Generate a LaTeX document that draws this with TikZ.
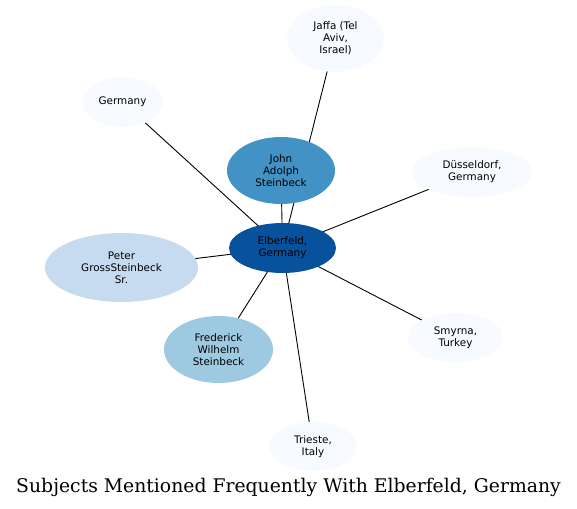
\documentclass[tikz,border=0pt]{standalone}
\usepackage{fontspec}
\usetikzlibrary{shapes.geometric,backgrounds}

\newfontfamily\labelfont{DejaVu Sans}
\newfontfamily\titlefont{DejaVu Serif}
\definecolor{elbblue}{HTML}{08519C}
\definecolor{johnblue}{HTML}{4292C6}
\definecolor{fredblue}{HTML}{9ECAE1}
\definecolor{peterblue}{HTML}{C6DBEF}
\definecolor{paleblue}{HTML}{F7FBFF}

\tikzset{
  place/.style={ellipse, inner sep=0pt, align=center,
    font=\labelfont\fontsize{10.4}{12}\selectfont},
  link/.style={line width=0.9pt}
}

\begin{document}
\begin{tikzpicture}[x=1pt,y=-1pt]
            \useasboundingbox (0,0) rectangle (577,508);

            \node [place, fill=elbblue, minimum width=107, minimum height=50] (E) at (282.5,248) {Elberfeld,\\Germany};
            \node [place, fill=johnblue, minimum width=108, minimum height=67] (J) at (281,170.5) {John\\Adolph\\Steinbeck};
            \node [place, fill=paleblue, minimum width=97, minimum height=67] (Ja) at (335.5,38.5) {Jaffa (Tel\\Aviv,\\Israel)};
            \node [place, fill=paleblue, minimum width=81, minimum height=50] (G) at (122.5,102) {Germany};
            \node [place, fill=paleblue, minimum width=120, minimum height=50] (D) at (472,172) {Düsseldorf,\\Germany};
            \node [place, fill=peterblue, minimum width=153, minimum height=69] (P) at (121.5,267.5) {Peter\\GrossSteinbeck\\Sr.};
            \node [place, fill=fredblue, minimum width=109, minimum height=67] (F) at (218.5,349.5) {Frederick\\Wilhelm\\Steinbeck};
            \node [place, fill=paleblue, minimum width=95, minimum height=49] (S) at (455.5,337.5) {Smyrna,\\Turkey};
            \node [place, fill=paleblue, minimum width=88, minimum height=49] (T) at (313,446.5) {Trieste,\\Italy};

            \node [font=\titlefont\fontsize{18.8}{22}\selectfont] (title) at (288.5,487) {Subjects Mentioned Frequently With Elberfeld, Germany};

            \begin{pgfonlayer}{background}
                \foreach \n in {J,Ja,G,D,P,F,S,T}
                    \draw [link] (E.center) -- (\n.center);
            \end{pgfonlayer}
        \end{tikzpicture}
\end{document}
